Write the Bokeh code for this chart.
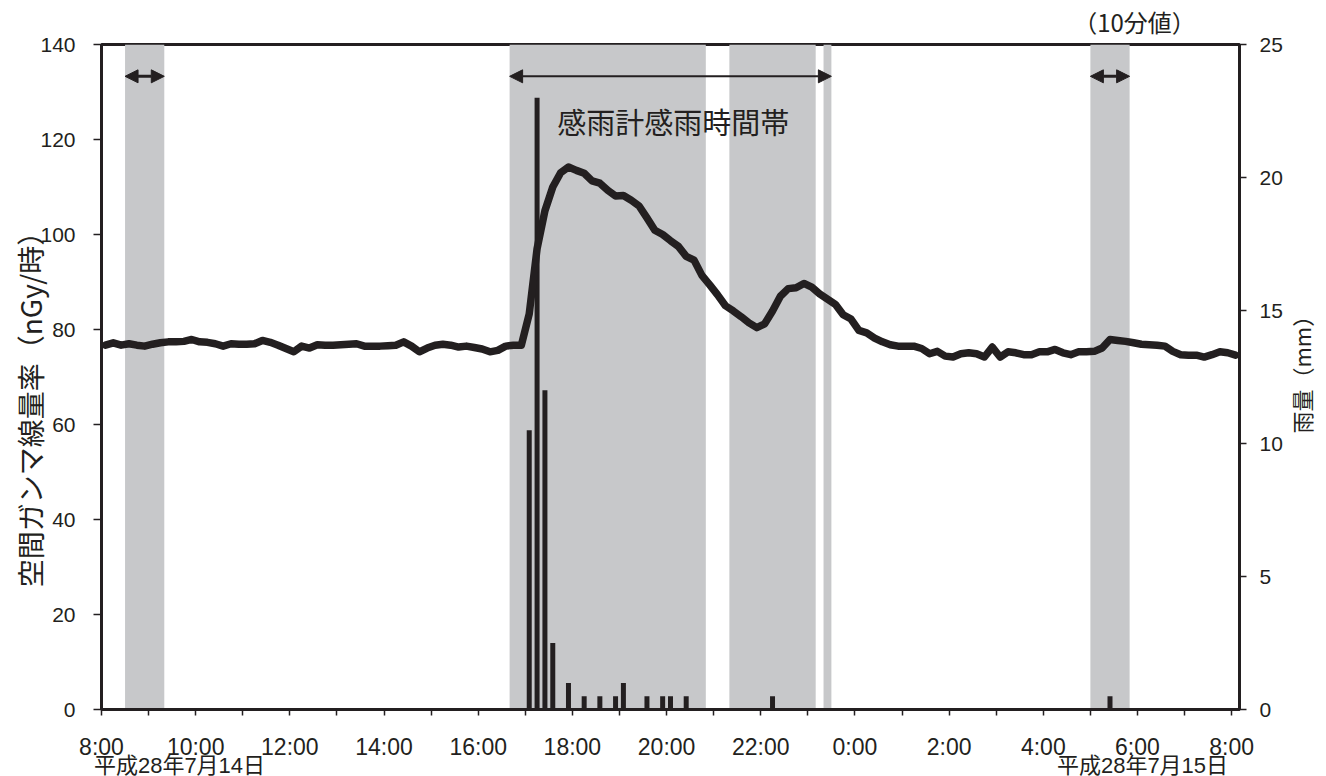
import math
from bokeh.plotting import figure
from bokeh.models import Range1d, LinearAxis, FixedTicker, Label, Arrow, NormalHead
from bokeh.embed import file_html
from bokeh.resources import INLINE

# ---------------- data ----------------
# 10-minute gamma dose rate (nGy/h), 8:00 on 7/14 to 8:00 on 7/15
gamma_rate = [
    76.7, 77.2, 76.7, 77.0, 76.7, 76.5, 76.9, 77.2, 77.4, 77.4,
    77.5, 77.9, 77.4, 77.3, 77.0, 76.5, 77.0, 76.9, 76.9, 77.0,
    77.7, 77.3, 76.7, 76.0, 75.3, 76.5, 76.1, 76.8, 76.7, 76.7,
    76.8, 76.9, 77.0, 76.5, 76.5, 76.5, 76.6, 76.7, 77.4, 76.5,
    75.3, 76.1, 76.7, 76.9, 76.7, 76.3, 76.5, 76.2, 75.9, 75.3,
    75.6, 76.5, 76.7, 76.7, 83.3, 97.0, 105.0, 110.0, 113.0, 114.2,
    113.5, 112.9, 111.3, 110.8, 109.3, 108.1, 108.2, 107.2, 106.0, 103.5,
    100.9, 100.0, 98.7, 97.5, 95.4, 94.6, 91.4, 89.4, 87.3, 85.0,
    83.9, 82.7, 81.4, 80.4, 81.2, 83.9, 87.0, 88.6, 88.8, 89.7,
    88.9, 87.5, 86.4, 85.3, 83.1, 82.2, 79.8, 79.3, 78.2, 77.4,
    76.8, 76.5, 76.5, 76.5, 76.0, 74.9, 75.4, 74.4, 74.2, 74.9,
    75.1, 74.9, 74.2, 76.3, 74.2, 75.3, 75.1, 74.7, 74.7, 75.3,
    75.3, 75.8, 75.1, 74.7, 75.3, 75.3, 75.4, 76.1, 77.9, 77.7,
    77.5, 77.2, 76.9, 76.8, 76.7, 76.5, 75.4, 74.7, 74.6, 74.6,
    74.2, 74.7, 75.3, 75.1, 74.6,
]

# 10-minute rainfall (mm), labelled by start of the 10-minute interval
rain_time = ["17:00", "17:10", "17:20", "17:30", "17:50", "18:10", "18:30",
             "18:50", "19:00", "19:30", "19:50", "20:00", "20:20", "22:10", "5:20"]
rain_mm = [10.5, 23.0, 12.0, 2.5, 1.0, 0.5, 0.5, 0.5, 1.0, 0.5, 0.5, 0.5, 0.5, 0.5, 0.5]

# rain-sensor active periods (grey bands)
band_start = ["8:30", "16:40", "21:20", "23:20", "5:00"]
band_end = ["9:20", "20:50", "23:10", "23:30", "5:50"]

# double-headed arrows marking rain-sensor periods
arrow_start = ["8:30", "16:40", "5:00"]
arrow_end = ["9:20", "23:30", "5:50"]

x_tick_labels = ["8:00", "10:00", "12:00", "14:00", "16:00", "18:00", "20:00",
                 "22:00", "0:00", "2:00", "4:00", "6:00", "8:00"]
left_ticks = [0, 20, 40, 60, 80, 100, 120, 140]
right_ticks = [0, 5, 10, 15, 20, 25]

date_labels = ["平成28年7月14日", "平成28年7月15日"]
left_title = "空間ガンマ線量率（nGy/時）"
right_title = "雨量（mm）"
sensor_note = "感雨計感雨時間帯"
interval_note = "（10分値）"

# ---------------- helpers ----------------
STEP = 1.0 / 6.0  # 10 minutes in hours


def hrs(s, end=False):
    h, m = map(int, s.split(":"))
    v = (h - 8) % 24 + m / 60.0
    if end and v == 0:
        v = 24.0
    return v


JP = "Noto Sans CJK JP"
NUM = "Liberation Sans"
JP_TIGHT = "Liberation Sans, Noto Sans CJK JP"
INK = "#231f20"
GREY = "#c7c8ca"

n = len(gamma_rate)
x_line = [(i + 0.5) * STEP for i in range(n)]
x_rain = [hrs(t) + STEP / 2 for t in rain_time]
FRAME_W, FRAME_H = 1138, 665
px_per_h = FRAME_W / (n * STEP)
px_per_v = FRAME_H / 140.0

p = figure(
    frame_width=FRAME_W, frame_height=FRAME_H,
    min_border_left=101, min_border_right=84, min_border_top=43, min_border_bottom=68,
    x_range=Range1d(0, n * STEP), y_range=Range1d(0, 140),
    output_backend="svg", toolbar_location=None,
)
p.extra_y_ranges = {"rain": Range1d(0, 25)}
p.xgrid.visible = False
p.ygrid.visible = False
p.outline_line_color = INK
p.outline_line_width = 3
p.outline_line_alpha = 1.0

# grey bands
p.quad(left=[hrs(s) for s in band_start], right=[hrs(e, True) for e in band_end],
       bottom=0, top=140, fill_color=GREY, line_color=None)

# rain bars
p.vbar(x=x_rain, top=rain_mm, width=0.106, y_range_name="rain",
       fill_color=INK, line_color=None)

# gamma line
p.line(x_line, gamma_rate, line_width=7.5, line_color=INK, line_join="round", line_cap="round")

# arrows
for s, e in zip(arrow_start, arrow_end):
    xs, xe = hrs(s), hrs(e, True)
    lw = 2 if (xe - xs) > 2 else 3
    p.add_layout(Arrow(
        start=NormalHead(size=13, fill_color=INK, line_color=INK, line_width=1),
        end=NormalHead(size=13, fill_color=INK, line_color=INK, line_width=1),
        x_start=xs, x_end=xe, y_start=133.3, y_end=133.3,
        line_width=lw, line_color=INK))

# note inside the plot
p.add_layout(Label(x=12.14, y=123.8, text=sensor_note, text_font=JP, text_font_size="29px",
                   text_color=INK, text_align="center", text_baseline="middle"))


def style_axis(ax, tick_out, font, size, standoff):
    ax.axis_line_width = 3
    ax.axis_line_color = INK
    ax.major_tick_out = tick_out
    ax.major_tick_in = 0
    ax.major_tick_line_width = 1.5
    ax.major_tick_line_color = INK
    ax.minor_tick_line_color = None
    ax.major_label_text_font = font
    ax.major_label_text_font_size = size
    ax.major_label_text_color = INK
    ax.major_label_standoff = standoff


def text_axis(ax, font, size, standoff):
    ax.axis_line_color = None
    ax.major_tick_line_color = None
    ax.minor_tick_line_color = None
    ax.major_tick_out = 0
    ax.major_tick_in = 0
    ax.major_label_text_font = font
    ax.major_label_text_font_size = size
    ax.major_label_text_color = INK
    ax.major_label_standoff = standoff


# x axis
xa = p.xaxis[0]
xa.ticker = FixedTicker(ticks=list(range(25)))
xa.major_label_overrides = {h: (x_tick_labels[h // 2] if h % 2 == 0 else "") for h in range(25)}
style_axis(xa, 6, NUM, "23px", 18)

# date labels under the first and last time labels (second, text-only axis)
date_pos = [(179 - 101) / px_per_h, (1142 - 101) / px_per_h]
da = LinearAxis(ticker=FixedTicker(ticks=date_pos))
da.major_label_overrides = {pos: lab for pos, lab in zip(date_pos, date_labels)}
text_axis(da, JP_TIGHT, "22px", -10)
p.add_layout(da, "below")

# interval note above the frame (text-only axis)
note_pos = (1134 - 101) / px_per_h
ta = LinearAxis(ticker=FixedTicker(ticks=[note_pos]))
ta.major_label_overrides = {note_pos: interval_note}
text_axis(ta, JP, "24px", 6)
p.add_layout(ta, "above")

# left axis
ya = p.yaxis[0]
ya.ticker = FixedTicker(ticks=left_ticks)
style_axis(ya, 8, NUM, "21px", 18)

# left title (text-only axis so its position along the axis can be set)
title_pos = (708 - 401) / px_per_v
la = LinearAxis(ticker=FixedTicker(ticks=[title_pos]))
la.major_label_overrides = {title_pos: left_title}
la.major_label_orientation = "parallel"
text_axis(la, JP, "28px", -12)
p.add_layout(la, "left")

# right axis
ra = LinearAxis(y_range_name="rain", ticker=FixedTicker(ticks=right_ticks))
style_axis(ra, 7, NUM, "21px", 13)
p.add_layout(ra, "right")

# right title (text-only axis, reading bottom to top; text starts at its tick)
rtitle_pos = (708 - 432) / px_per_v
rt = LinearAxis(ticker=FixedTicker(ticks=[rtitle_pos]))
rt.major_label_overrides = {rtitle_pos: right_title}
rt.major_label_orientation = math.pi / 2
text_axis(rt, JP, "22px", 15)
p.add_layout(rt, "right")

open("out.html", "w").write(file_html(p, INLINE))
